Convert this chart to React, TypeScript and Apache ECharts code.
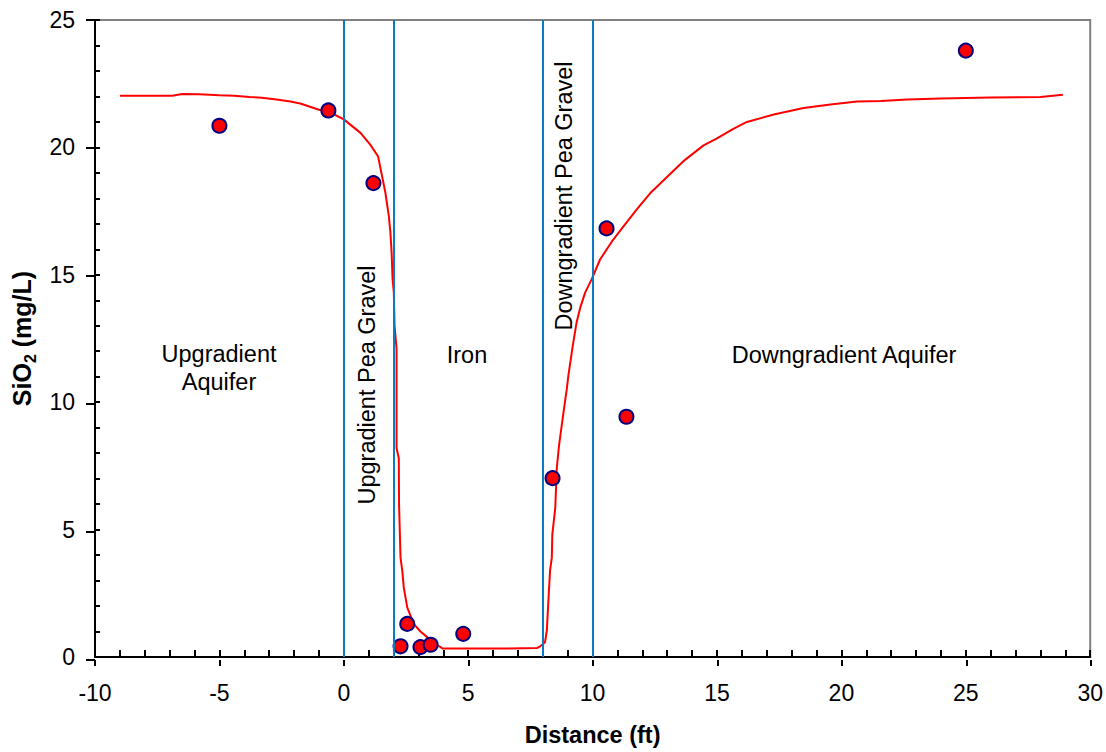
import React, { useEffect, useRef } from "react";
import * as echarts from "echarts";

const FONT = "'Liberation Sans', Arial, Helvetica, sans-serif";

// Measured SiO2 concentrations [distance ft, mg/L]
const measuredPoints: number[][] = [
  [-5.0, 20.85],
  [-0.62, 21.45],
  [1.19, 18.6],
  [2.28, 0.42],
  [2.55, 1.3],
  [3.08, 0.39],
  [3.49, 0.48],
  [4.8, 0.91],
  [8.39, 7.02],
  [10.56, 16.82],
  [11.36, 9.43],
  [25.0, 23.8],
];

// Model curve [distance ft, mg/L]
const modelCurve: number[][] = [
  [-9.0, 22.03], [-6.9, 22.03], [-6.5, 22.1], [-5.8, 22.09], [-5.0, 22.05],
  [-4.4, 22.03], [-3.8, 21.98], [-3.3, 21.95], [-2.7, 21.88], [-2.15, 21.8],
  [-1.75, 21.72], [-1.0, 21.48], [-0.5, 21.35], [0.0, 21.1], [0.67, 20.57],
  [1.07, 20.1], [1.38, 19.64], [1.47, 19.2], [1.67, 18.23], [1.81, 17.3],
  [1.87, 16.7], [1.92, 15.9], [1.96, 14.84], [2.01, 14.3], [2.04, 13.0],
  [2.12, 12.1], [2.12, 8.2], [2.21, 7.8], [2.22, 6.0], [2.25, 4.95],
  [2.28, 3.9], [2.35, 3.39], [2.41, 2.73], [2.55, 1.95], [2.81, 1.3],
  [3.08, 1.0], [3.35, 0.78], [3.6, 0.55], [3.89, 0.39], [3.96, 0.33],
  [5.0, 0.33], [6.0, 0.33], [7.76, 0.35], [7.89, 0.42], [8.0, 0.5],
  [8.09, 0.59], [8.16, 1.04], [8.23, 2.34], [8.29, 3.39], [8.36, 3.9],
  [8.38, 4.8], [8.5, 5.86], [8.56, 7.4], [8.65, 8.3], [8.83, 9.6],
  [8.96, 10.5], [9.03, 11.07], [9.2, 12.2], [9.36, 13.15], [9.5, 13.7],
  [9.7, 14.3], [9.97, 14.84], [10.3, 15.6], [10.77, 16.3], [11.24, 16.9],
  [11.8, 17.6], [12.31, 18.2], [13.0, 18.85], [13.65, 19.46], [14.46, 20.08],
  [15.0, 20.35], [15.6, 20.7], [16.2, 21.0], [17.28, 21.29], [18.48, 21.55],
  [19.56, 21.68], [20.63, 21.8], [21.6, 21.82], [22.64, 21.88], [24.0, 21.92],
  [26.0, 21.96], [28.0, 21.98], [28.9, 22.07],
];

// Zone boundaries (ft)
const zoneBoundaries: number[] = [0, 2, 8, 10];

// Zone labels
const zoneLabels = {
  upAquifer: "Upgradient\nAquifer",
  upGravel: "Upgradient Pea Gravel",
  iron: "Iron",
  downGravel: "Downgradient Pea Gravel",
  downAquifer: "Downgradient Aquifer",
};

const xMin = -10, xMax = 30, xInterval = 5;
const yMin = 0, yMax = 25, yInterval = 5;

export default function App() {
  const ref = useRef<HTMLDivElement>(null);

  useEffect(() => {
    document.body.style.margin = "0";
    if (!ref.current) return;
    const chart = echarts.init(ref.current, undefined, { renderer: "svg" });

    const gridBox = { left: 95, right: 15, top: 20, bottom: 92 };
    const labelStyle = { fontSize: 23, color: "#000", fontFamily: FONT };
    const annStyle = { fontSize: 23.5, fill: "#000", fontFamily: FONT, align: "center", verticalAlign: "middle" };

    const option: any = {
      animation: false,
      backgroundColor: "#fff",
      grid: [
        { ...gridBox, show: true, borderColor: "#808080", borderWidth: 2, backgroundColor: "transparent" },
        { ...gridBox, show: false },
      ],
      xAxis: [
        {
          type: "value", gridIndex: 0, min: xMin, max: xMax, interval: xInterval,
          axisLine: { show: true, onZero: false, lineStyle: { color: "#000", width: 2 } },
          axisTick: { show: true, inside: true, length: 7, lineStyle: { color: "#000", width: 2 } },
          minorTick: { show: true, splitNumber: 5, length: 7, lineStyle: { color: "#000", width: 2 } },
          splitLine: { show: false },
          axisLabel: { ...labelStyle, margin: 24 },
          name: "Distance (ft)", nameLocation: "middle", nameGap: 66,
          nameTextStyle: { fontSize: 23.5, fontWeight: "bold", color: "#000", fontFamily: FONT },
        },
        {
          type: "value", gridIndex: 1, min: xMin, max: xMax, interval: xInterval,
          axisLine: { show: false, onZero: false },
          axisTick: { show: true, inside: false, length: 6, lineStyle: { color: "#000", width: 2 } },
          splitLine: { show: false }, axisLabel: { show: false },
        },
      ],
      yAxis: [
        {
          type: "value", gridIndex: 0, min: yMin, max: yMax, interval: yInterval,
          axisLine: { show: true, onZero: false, lineStyle: { color: "#000", width: 2 } },
          axisTick: { show: true, inside: true, length: 5, lineStyle: { color: "#000", width: 2 } },
          minorTick: { show: true, splitNumber: 5, length: 5, lineStyle: { color: "#000", width: 2 } },
          splitLine: { show: false },
          axisLabel: { ...labelStyle, margin: 20 },
          name: "{a|SiO}{s|2}{a| (mg/L)}", nameLocation: "middle", nameGap: 52,
          nameTextStyle: {
            color: "#000",
            rich: {
              a: { fontSize: 25, fontWeight: "bold", fontFamily: FONT, color: "#000", lineHeight: 26, verticalAlign: "top" },
              s: { fontSize: 16, fontWeight: "bold", fontFamily: FONT, color: "#000", padding: [13, 0, 0, 0], verticalAlign: "bottom" },
            },
          },
        },
        {
          type: "value", gridIndex: 1, min: yMin, max: yMax, interval: yInterval,
          axisLine: { show: false, onZero: false },
          axisTick: { show: true, inside: false, length: 9, lineStyle: { color: "#000", width: 2 } },
          splitLine: { show: false }, axisLabel: { show: false },
        },
      ],
      series: [
        {
          type: "scatter", xAxisIndex: 0, yAxisIndex: 0, data: [], z: 1, silent: true,
          markLine: {
            silent: true, symbol: ["none", "none"], label: { show: false }, animation: false,
            lineStyle: { color: "#0a7bc2", width: 2, type: "solid" },
            emphasis: { disabled: true },
            data: zoneBoundaries.map((v) => ({ xAxis: v })),
          },
        },
        {
          type: "line", xAxisIndex: 0, yAxisIndex: 0, data: modelCurve, z: 2,
          showSymbol: false, symbol: "none", smooth: false,
          lineStyle: { color: "#ff0000", width: 2 }, silent: true,
        },
        {
          type: "scatter", xAxisIndex: 0, yAxisIndex: 0, data: measuredPoints, z: 3,
          symbol: "circle", symbolSize: 14,
          itemStyle: { color: "#ff0000", borderColor: "#000080", borderWidth: 2, opacity: 1 },
          silent: true,
        },
      ],
      graphic: [
        { type: "text", x: 219, y: 368, style: { ...annStyle, text: zoneLabels.upAquifer, lineHeight: 28 } },
        { type: "text", x: 367, y: 385, rotation: Math.PI / 2, style: { ...annStyle, text: zoneLabels.upGravel } },
        { type: "text", x: 467, y: 355, style: { ...annStyle, text: zoneLabels.iron } },
        { type: "text", x: 564, y: 196, rotation: Math.PI / 2, style: { ...annStyle, text: zoneLabels.downGravel } },
        { type: "text", x: 844, y: 355, style: { ...annStyle, text: zoneLabels.downAquifer } },
      ],
    };

    chart.setOption(option);
    return () => chart.dispose();
  }, []);

  return <div ref={ref} style={{ width: 1106, height: 752 }} />;
}
